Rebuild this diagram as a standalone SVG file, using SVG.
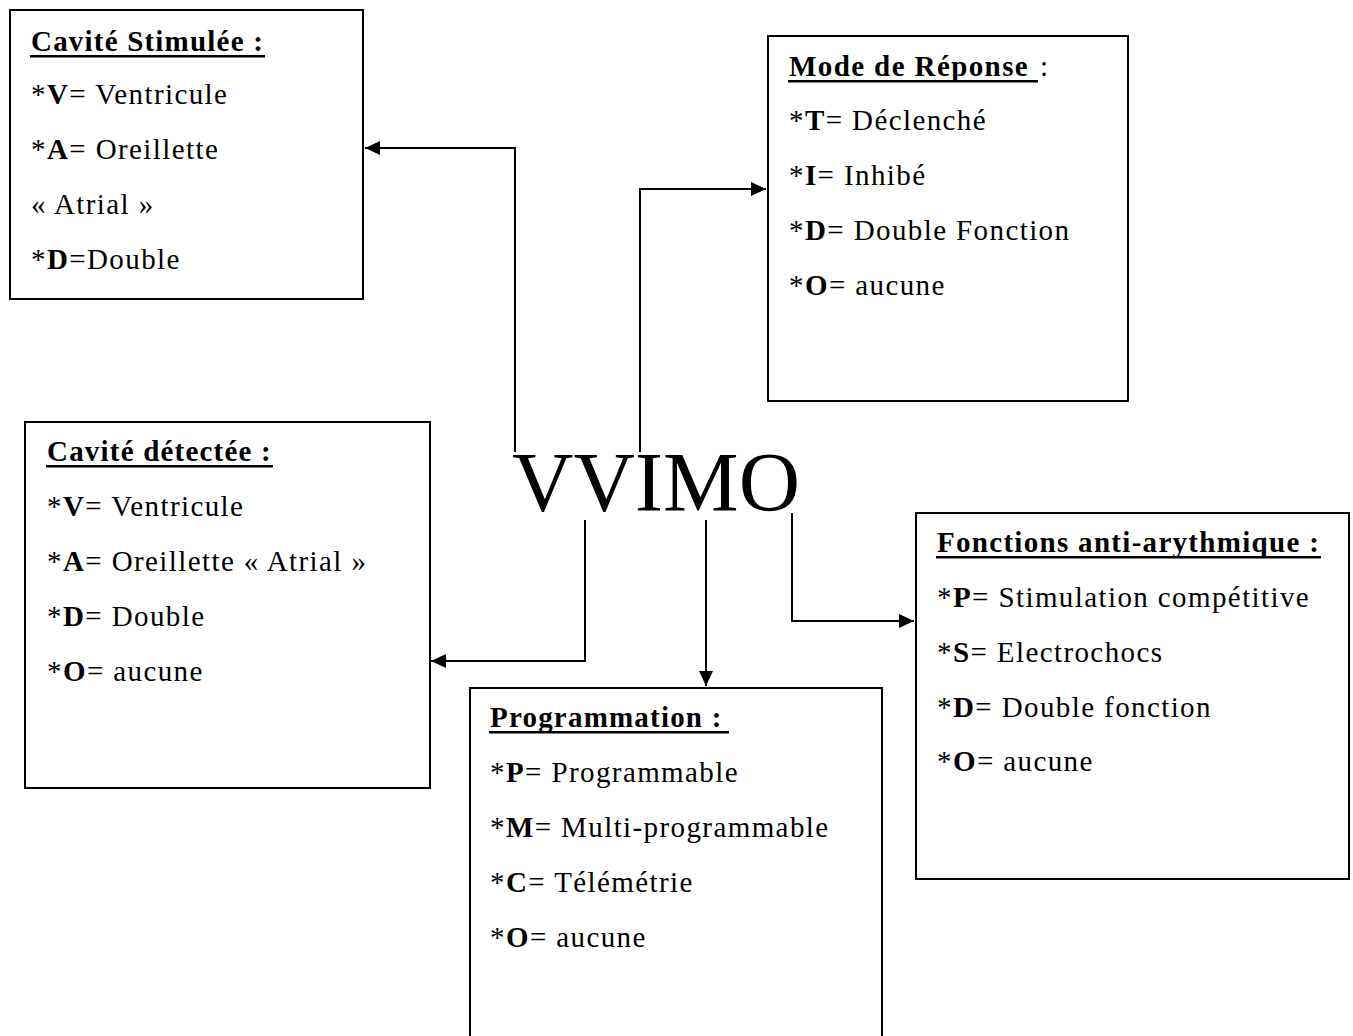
<svg xmlns="http://www.w3.org/2000/svg" width="1353" height="1036" viewBox="0 0 1353 1036">
<style>
.box{fill:#fff;stroke:#000;stroke-width:2}
.t{font-family:"Liberation Serif","Times New Roman",serif;font-size:29px;letter-spacing:1.4px;fill:#000}
.b{font-weight:bold}
.ul{fill:#000}
.con{fill:none;stroke:#000;stroke-width:2}
.big{font-family:"Liberation Serif","Times New Roman",serif;font-size:85px;fill:#000}
</style>
<defs>
<marker id="arr" markerUnits="userSpaceOnUse" markerWidth="16" markerHeight="14" refX="15" refY="7" orient="auto">
<path d="M0,0 L15,7 L0,14 Z" fill="#000"/>
</marker>
</defs>
<rect width="1353" height="1036" fill="#fff"/>
<g id="connectors">
<path class="con" d="M515,452 V148 H365" marker-end="url(#arr)"/>
<path class="con" d="M640,452 V189 H766" marker-end="url(#arr)"/>
<path class="con" d="M585,520 V661 H431" marker-end="url(#arr)"/>
<path class="con" d="M706,520 V686" marker-end="url(#arr)"/>
<path class="con" d="M792,513 V621 H914" marker-end="url(#arr)"/>
</g>
<g id="center">
<text class="big" x="512" y="511">VVIMO</text>
</g>
<g id="cavite-stimulee">
<rect class="box" x="10" y="10" width="353" height="289"/>
<text class="t b" x="31" y="51" style="letter-spacing:1.2px">Cavité Stimulée :</text>
<rect class="ul" x="30" y="55" width="235" height="2.5"/>
<text class="t" x="31" y="104">*<tspan class="b">V</tspan>= Ventricule</text>
<text class="t" x="31" y="159">*<tspan class="b">A</tspan>= Oreillette</text>
<text class="t" x="31" y="214">« Atrial »</text>
<text class="t" x="31" y="269">*<tspan class="b">D</tspan>=Double</text>
</g>
<g id="mode-reponse">
<rect class="box" x="768" y="36" width="360" height="365"/>
<text class="t" x="789" y="76"><tspan class="b">Mode de Réponse </tspan><tspan x="1040">:</tspan></text>
<rect class="ul" x="788" y="80" width="250" height="2.5"/>
<text class="t" x="789" y="130">*<tspan class="b">T</tspan>= Déclenché</text>
<text class="t" x="789" y="185">*<tspan class="b">I</tspan>= Inhibé</text>
<text class="t" x="789" y="240">*<tspan class="b">D</tspan>= Double Fonction</text>
<text class="t" x="789" y="295">*<tspan class="b">O</tspan>= aucune</text>
</g>
<g id="cavite-detectee">
<rect class="box" x="25" y="422" width="405" height="366"/>
<text class="t b" x="47" y="461" style="letter-spacing:1.2px">Cavité détectée :</text>
<rect class="ul" x="46" y="465" width="227" height="2.5"/>
<text class="t" x="47" y="516">*<tspan class="b">V</tspan>= Ventricule</text>
<text class="t" x="47" y="571">*<tspan class="b">A</tspan>= Oreillette « Atrial »</text>
<text class="t" x="47" y="626">*<tspan class="b">D</tspan>= Double</text>
<text class="t" x="47" y="681">*<tspan class="b">O</tspan>= aucune</text>
</g>
<g id="programmation">
<rect class="box" x="470" y="688" width="412" height="360"/>
<text class="t b" x="490" y="727" style="letter-spacing:1.2px">Programmation :</text>
<rect class="ul" x="489" y="731" width="240" height="2.5"/>
<text class="t" x="490" y="782">*<tspan class="b">P</tspan>= Programmable</text>
<text class="t" x="490" y="837">*<tspan class="b">M</tspan>= Multi-programmable</text>
<text class="t" x="490" y="892">*<tspan class="b">C</tspan>= Télémétrie</text>
<text class="t" x="490" y="947">*<tspan class="b">O</tspan>= aucune</text>
</g>
<g id="fonctions-anti-arythmique">
<rect class="box" x="916" y="513" width="433" height="366"/>
<text class="t b" x="937" y="552" style="letter-spacing:1.3px">Fonctions anti-arythmique :</text>
<rect class="ul" x="936" y="556" width="385" height="2.5"/>
<text class="t" x="937" y="607">*<tspan class="b">P</tspan>= Stimulation compétitive</text>
<text class="t" x="937" y="662">*<tspan class="b">S</tspan>= Electrochocs</text>
<text class="t" x="937" y="717">*<tspan class="b">D</tspan>= Double fonction</text>
<text class="t" x="937" y="771">*<tspan class="b">O</tspan>= aucune</text>
</g>
</svg>
